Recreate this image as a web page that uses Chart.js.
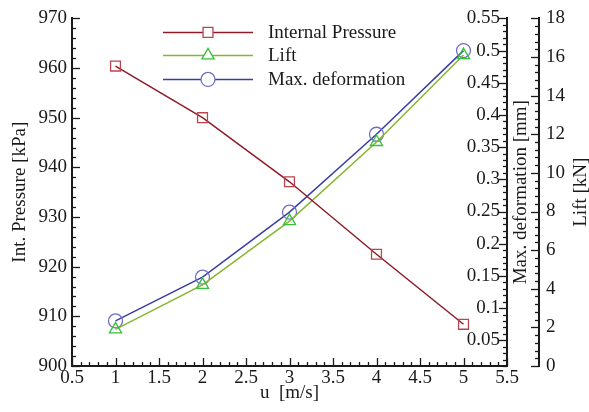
<!DOCTYPE html>
<html lang="en">
<head>
<meta charset="UTF-8">
<title>Pressure, lift and deformation vs. speed</title>
<script src="https://cdn.jsdelivr.net/npm/chart.js"></script>
<style>
  html, body { margin: 0; padding: 0; background: #fff; }
  canvas { display: block; }
</style>
</head>
<body>
<canvas id="chart" width="589" height="412"></canvas>
<script>
// values
const speeds = [1, 2, 3, 4, 5];
const pressure = [960.4, 950.0, 937.1, 922.5, 908.4];
const lift = [1.9, 4.2, 7.5, 11.6, 16.1];
const deformation = [0.080, 0.148, 0.249, 0.370, 0.500];

// axis tick labels
const xTicks = [0.5, 1, 1.5, 2, 2.5, 3, 3.5, 4, 4.5, 5, 5.5];
const pressureTicks = [900, 910, 920, 930, 940, 950, 960, 970];
const deformationTicks = [0.05, 0.1, 0.15, 0.2, 0.25, 0.3, 0.35, 0.4, 0.45, 0.5, 0.55];
const liftTicks = [0, 2, 4, 6, 8, 10, 12, 14, 16, 18];

const serif = '"Liberation Serif", "DejaVu Serif", serif';
const ink = '#1a1a1a';

const toPoints = (ys) => speeds.map((x, i) => ({ x: x, y: ys[i] }));
const fixedTicks = (values) => (scale) => { scale.ticks = values.map(v => ({ value: v })); };

// inward tick marks, major + minor (tecplot style)
const minorSteps = { x: 0.1, yP: 2, yD: 0.01, yL: 0.4 };
const tickMarks = {
    id: 'tickMarks',
    afterDatasetsDraw(chart) {
        const ctx = chart.ctx;
        ctx.save();
        ctx.strokeStyle = ink;
        ctx.lineWidth = 1.3;
        const mark = (scale, value, len) => {
            const p = Math.round(scale.getPixelForValue(value)) + 0.5;
            ctx.beginPath();
            if (scale.isHorizontal()) {
                ctx.moveTo(p, scale.top);
                ctx.lineTo(p, scale.top - len);
            } else {
                const x0 = scale.position === 'left' ? scale.right : scale.left;
                const dir = scale.position === 'left' ? 1 : -1;
                ctx.moveTo(x0, p);
                ctx.lineTo(x0 + dir * len, p);
            }
            ctx.stroke();
        };
        Object.keys(minorSteps).forEach(id => {
            const scale = chart.scales[id];
            const step = minorSteps[id];
            const majors = scale.ticks.map(t => t.value);
            for (let i = Math.ceil(scale.min / step - 1e-6); i * step <= scale.max + 1e-9; i++) {
                const v = i * step;
                if (majors.some(m => Math.abs(m - v) < step / 10)) continue;
                mark(scale, v, 4);
            }
            majors.forEach(v => mark(scale, v, 8));
        });
        ctx.restore();
    }
};

// legend inside the plot: line + marker + text
const lineLegend = {
    id: 'lineLegend',
    afterDraw(chart) {
        const ctx = chart.ctx;
        const area = chart.chartArea;
        const x0 = area.left + 91, x1 = area.left + 181, tx = area.left + 196;
        const rows = [area.top + 14, area.top + 37, area.top + 61];
        ctx.save();
        chart.data.datasets.forEach((ds, i) => {
            const y = rows[i];
            ctx.strokeStyle = ds.borderColor;
            ctx.lineWidth = ds.borderWidth;
            ctx.beginPath();
            ctx.moveTo(x0, y);
            ctx.lineTo(x1, y);
            ctx.stroke();
            ctx.strokeStyle = ds.pointBorderColor;
            ctx.fillStyle = '#fff';
            ctx.lineWidth = ds.pointBorderWidth;
            Chart.helpers.drawPoint(ctx, { pointStyle: ds.pointStyle, radius: ds.pointRadius, rotation: 0, borderWidth: ds.pointBorderWidth }, (x0 + x1) / 2, y);
            ctx.fillStyle = ink;
            ctx.font = '19px ' + serif;
            ctx.textBaseline = 'middle';
            ctx.textAlign = 'left';
            ctx.fillText(ds.label, tx, y + 1);
        });
        ctx.restore();
    }
};

// right-hand axis titles read bottom-to-top like the left one
const rightTitles = {
    id: 'rightTitles',
    afterDraw(chart) {
        const ctx = chart.ctx;
        const area = chart.chartArea;
        const yMid = (area.top + area.bottom) / 2;
        ctx.save();
        ctx.fillStyle = ink;
        ctx.font = '19px ' + serif;
        ctx.textAlign = 'center';
        ctx.textBaseline = 'middle';
        [['yD', 14, 'Max. deformation [mm]'], ['yL', 42, 'Lift [kN]']].forEach(([id, dx, text]) => {
            const s = chart.scales[id];
            ctx.save();
            ctx.translate(s.left + dx, yMid);
            ctx.rotate(-Math.PI / 2);
            ctx.fillText(text, 0, 0);
            ctx.restore();
        });
        ctx.restore();
    }
};

const tickFont = { family: serif, size: 19 };
const axisBorder = { display: true, color: ink, width: 2 };

new Chart(document.getElementById('chart').getContext('2d'), {
    type: 'line',
    data: {
        datasets: [{
            label: 'Internal Pressure',
            data: toPoints(pressure),
            yAxisID: 'yP',
            borderColor: '#8e1c28',
            borderWidth: 1.5,
            pointStyle: 'rect',
            pointRadius: 7,
            pointBorderWidth: 1.3,
            pointBorderColor: '#b9454e',
            pointBackgroundColor: 'rgba(0,0,0,0)'
        }, {
            label: 'Lift',
            data: toPoints(lift),
            yAxisID: 'yL',
            borderColor: '#86b52e',
            borderWidth: 1.5,
            pointStyle: 'triangle',
            pointRadius: 7,
            pointBorderWidth: 1.3,
            pointBorderColor: '#36c03c',
            pointBackgroundColor: 'rgba(0,0,0,0)'
        }, {
            label: 'Max. deformation',
            data: toPoints(deformation),
            yAxisID: 'yD',
            borderColor: '#3a3ea4',
            borderWidth: 1.5,
            pointStyle: 'circle',
            pointRadius: 7,
            pointBorderWidth: 1.3,
            pointBorderColor: '#6d6fc2',
            pointBackgroundColor: 'rgba(0,0,0,0)'
        }]
    },
    options: {
        responsive: false,
        animation: false,
        devicePixelRatio: 1,
        layout: { padding: { top: 15, left: 0, right: 0, bottom: 0 } },
        plugins: { legend: { display: false }, tooltip: { enabled: false } },
        elements: { line: { tension: 0 } },
        scales: {
            x: {
                type: 'linear',
                min: 0.5,
                max: 5.5,
                afterBuildTicks: fixedTicks(xTicks),
                afterFit: (s) => { s.height = 46; },
                grid: { display: false, drawTicks: false },
                border: axisBorder,
                ticks: { font: tickFont, color: ink, padding: 1, maxRotation: 0, callback: (v) => String(v) },
                title: { display: true, text: 'u  [m/s]', font: tickFont, color: ink, padding: { top: 0, bottom: 8 } }
            },
            yP: {
                type: 'linear',
                position: 'left',
                min: 900,
                max: 970,
                afterBuildTicks: fixedTicks(pressureTicks),
                afterFit: (s) => { s.width = 72; },
                grid: { display: false, drawTicks: false },
                border: axisBorder,
                ticks: { font: tickFont, color: ink, padding: 5, callback: (v) => String(v) },
                title: { display: true, text: 'Int. Pressure [kPa]', font: tickFont, color: ink, padding: { top: 9, bottom: 0 } }
            },
            yD: {
                type: 'linear',
                position: 'right',
                weight: 0,
                min: 0.01,
                max: 0.55,
                afterBuildTicks: fixedTicks(deformationTicks),
                afterFit: (s) => { s.width = 32; },
                grid: { display: false, drawTicks: false },
                border: axisBorder,
                ticks: { font: tickFont, color: ink, mirror: true, padding: -7, callback: (v) => String(v) }
            },
            yL: {
                type: 'linear',
                position: 'right',
                weight: 1,
                min: 0,
                max: 18,
                afterBuildTicks: fixedTicks(liftTicks),
                afterFit: (s) => { s.width = 50; },
                grid: { display: false, drawTicks: false },
                border: axisBorder,
                ticks: { font: tickFont, color: ink, padding: 7, callback: (v) => String(v) }
            }
        }
    },
    plugins: [tickMarks, lineLegend, rightTitles]
});
</script>
</body>
</html>
